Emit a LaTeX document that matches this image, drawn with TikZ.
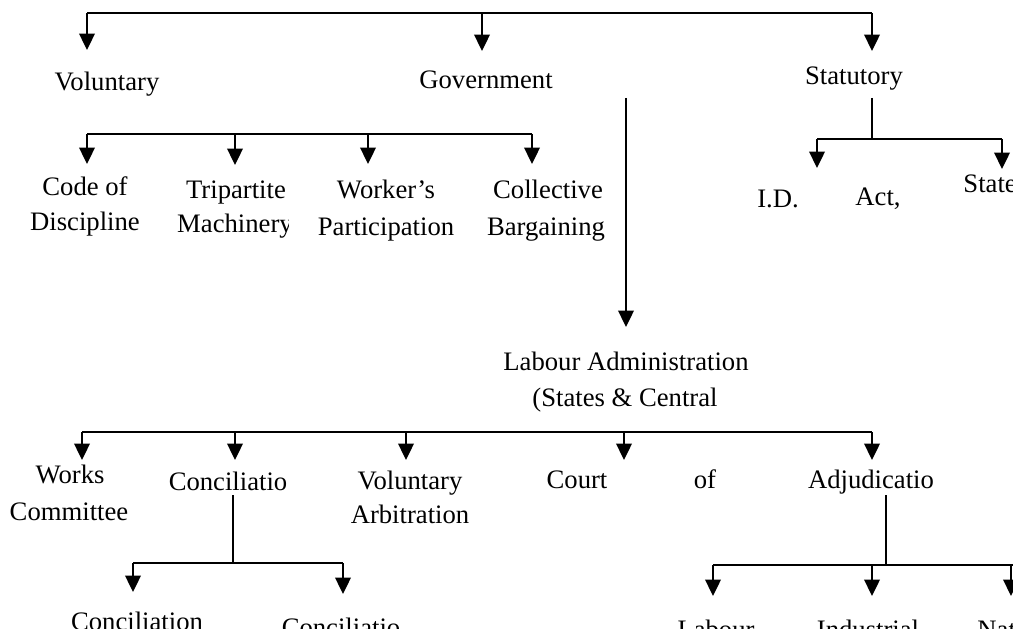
\documentclass[tikz,border=0pt]{standalone}
\usepackage{fontspec}
\setmainfont{Liberation Serif}
\usetikzlibrary{arrows.meta}
\begin{document}
\begin{tikzpicture}[x=0.45pt,y=-0.45pt,
  lbl/.style={inner sep=0pt,anchor=base,font=\fontsize{12}{15}\selectfont},
  lblw/.style={lbl,anchor=base west},
  conn/.style={line width=0.9pt},
  arr/.style={conn,-{Triangle[width=7pt,length=7.4pt]}}]
\useasboundingbox (0,0) rectangle (1013,628);
\clip (0,0) rectangle (1013,628);
% ---------- text nodes ----------
\node[lbl] (vol) at (107,91) {Voluntary};
\node[lbl] (gov) at (486,89) {Government};
\node[lbl] (stat) at (854,85) {Statutory};
\node[lbl] (code) at (85,195) {Code of};
\node[lbl] (codeb) at (85,230) {Discipline};
\node[lbl] (tri) at (236,198) {Tripartite};
\begin{scope}
\clip (150,205) rectangle (288,250);
\node[lbl] (trib) at (235,232) {Machinery};
\end{scope}
\node[lbl] (wp) at (386,199) {Worker’s};
\node[lbl] (wpb) at (386,235) {Participation};
\node[lbl] (cb) at (548,199) {Collective};
\node[lbl] (cbb) at (546,235) {Bargaining};
\node[lbl] (id) at (778,207) {I.D.};
\node[lbl] (act) at (878,205) {Act,};
\node[lblw] (sts) at (963,192) {States};
\node[lbl] (la) at (626,370) {Labour Administration};
\node[lbl] (lab) at (625,406) {(States \& Central};
\node[lbl] (wc) at (70,483) {Works};
\node[lbl] (wcb) at (69,520) {Committee};
\node[lbl] (con) at (228,490) {Conciliatio};
\node[lbl] (va) at (410,489) {Voluntary};
\node[lbl] (vab) at (410,523) {Arbitration};
\node[lbl] (court) at (577,488) {Court};
\node[lbl] (of) at (705,488) {of};
\node[lbl] (adj) at (871,488) {Adjudicatio};
\node[lbl] (con1) at (137,630) {Conciliation};
\node[lbl] (con2) at (341,636) {Conciliatio};
\node[lbl] (lc) at (716,638) {Labour};
\node[lbl] (it) at (868,638) {Industrial};
\node[lblw] (nat) at (977,638) {National};
% ---------- top level ----------
\coordinate (t1) at (87,13);
\coordinate (t2) at (482,13);
\coordinate (t3) at (872,13);
\draw[conn] (t1) -- (t3);
\draw[arr] (t1) -- (87,50);
\draw[arr] (t2) -- (482,51);
\draw[arr] (t3) -- (872,51);
% ---------- voluntary branch ----------
\coordinate (v1) at (87,134);
\coordinate (v2) at (235,134);
\coordinate (v3) at (368,134);
\coordinate (v4) at (532,134);
\draw[conn] (v1) -- (v4);
\draw[arr] (v1) -- (87,164);
\draw[arr] (v2) -- (235,165);
\draw[arr] (v3) -- (368,164);
\draw[arr] (v4) -- (532,164);
% ---------- government line ----------
\coordinate (g0) at (626,98);
\draw[arr] (g0) -- (626,327);
% ---------- statutory branch ----------
\coordinate (s0) at (872,98);
\coordinate (s1) at (872,139);
\coordinate (s2) at (817,139);
\coordinate (s3) at (1002,139);
\draw[conn] (s0) -- (s1);
\draw[conn] (s2) -- (s3);
\draw[arr] (s2) -- (817,168);
\draw[arr] (s3) -- (1002,169);
% ---------- labour administration branch ----------
\coordinate (l1) at (82,432);
\coordinate (l2) at (235,432);
\coordinate (l3) at (406,432);
\coordinate (l4) at (624,432);
\coordinate (l5) at (872,432);
\draw[conn] (l1) -- (l5);
\draw[arr] (l1) -- (82,460);
\draw[arr] (l2) -- (235,460);
\draw[arr] (l3) -- (406,460);
\draw[arr] (l4) -- (624,460);
\draw[arr] (l5) -- (872,460);
% ---------- conciliation branch ----------
\coordinate (c0) at (233,495);
\coordinate (c1) at (233,563);
\coordinate (c2) at (133,563);
\coordinate (c3) at (343,563);
\draw[conn] (c0) -- (c1);
\draw[conn] (c2) -- (c3);
\draw[arr] (c2) -- (133,592);
\draw[arr] (c3) -- (343,594);
% ---------- adjudication branch ----------
\coordinate (a0) at (886,495);
\coordinate (a1) at (886,565);
\coordinate (a2) at (713,565);
\coordinate (a3) at (872,565);
\coordinate (a4) at (1011,565);
\draw[conn] (a0) -- (a1);
\draw[conn] (a2) -- (1020,565);
\draw[arr] (a2) -- (713,596);
\draw[arr] (a3) -- (872,596);
\draw[arr] (a4) -- (1011,596);
\end{tikzpicture}
\end{document}
